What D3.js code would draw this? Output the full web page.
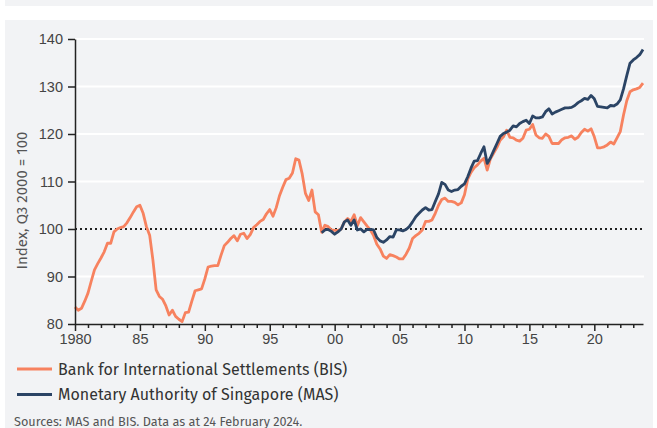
<!DOCTYPE html>
<html><head><meta charset="utf-8">
<script src="https://cdn.jsdelivr.net/npm/d3@7"></script>
<style>
html,body{margin:0;padding:0;background:#fff;}
svg{display:block;font-family:"Fira Sans","Noto Sans",Roboto,sans-serif;}
</style></head><body>
<svg id="c" width="657" height="428"></svg>
<script>
// Quarterly, from 1980Q1 to 2023Q4
const startYear = 1980;
const bisValues = [
 83.6,82.9,83.3,84.8, 86.5,89.0,91.4,92.7, 93.9,95.2,97.0,97.0, 99.4,100.0,100.3,100.5,
 101.3,102.4,103.6,104.7, 105.0,103.3,100.5,98.7, 93.5,87.2,85.8,85.2, 83.8,81.9,82.9,81.6,
 81.0,80.5,82.4,82.5, 84.8,87.0,87.2,87.4, 89.5,92.0,92.2,92.3, 92.3,94.5,96.5,97.2,
 98.0,98.6,97.5,98.9, 99.1,98.0,98.8,100.3, 100.9,101.6,102.0,103.2, 104.1,102.7,104.5,107.0,
 108.8,110.4,110.7,111.8, 114.8,114.5,111.6,107.5, 106.0,108.2,103.6,103.0, 99.3,100.8,100.5,99.8,
 99.7,99.7,100.0,101.5, 102.2,101.6,103.0,100.7, 102.4,101.5,100.6,99.8, 98.6,96.8,95.8,94.3,
 93.8,94.6,94.4,94.1, 93.7,93.7,94.7,96.0, 98.0,98.6,99.1,99.8, 101.6,101.6,101.9,103.3,
 105.0,106.2,106.5,105.8, 105.8,105.6,105.1,105.5, 107.2,110.5,111.9,112.9, 113.5,114.3,114.9,112.4,
 114.8,116.0,117.2,118.7, 119.4,120.8,119.3,119.2, 118.7,118.5,119.1,120.8, 121.0,122.0,119.8,119.2,
 119.1,120.0,119.5,118.0, 118.0,118.0,118.8,119.2, 119.3,119.6,118.9,119.3, 120.3,121.0,120.6,121.1,
 119.4,117.1,117.1,117.3, 117.7,118.3,117.9,119.2, 120.5,124.0,127.0,128.9, 129.3,129.5,129.8,130.7
];
// Quarterly, from 1999Q1 to 2023Q4
const masStartYear = 1999;
const masValues = [
 99.2,99.8,99.9,99.5, 98.9,99.4,100.0,101.5, 101.9,100.8,101.9,99.8, 100.0,99.4,99.9,99.9,
 99.8,98.2,97.5,97.2, 97.7,98.4,98.3,99.8, 99.8,99.6,99.9,100.5, 101.5,102.6,103.3,104.0,
 104.5,104.0,104.1,105.8, 107.4,109.8,109.4,108.2, 107.9,108.2,108.3,109.0, 109.5,111.0,112.8,114.3,
 114.4,115.9,117.3,113.8, 115.0,116.5,118.0,119.5, 120.1,120.4,120.8,121.7, 121.5,122.2,122.6,122.9,
 122.2,123.8,123.4,123.4, 123.6,124.7,125.3,124.2, 124.6,124.9,125.2,125.5, 125.5,125.6,126.0,126.6,
 127.0,127.5,127.3,128.1, 127.4,125.8,125.7,125.6, 125.5,126.0,125.9,126.3, 127.2,129.5,132.3,134.9,
 135.6,136.1,136.7,137.8
];
const yTicks = [80,90,100,110,120,130,140];
const xMajorTicks = [1980,1985,1990,1995,2000,2005,2010,2015,2020];
const seriesNames = ["Bank for International Settlements (BIS)","Monetary Authority of Singapore (MAS)"];
const seriesColors = ["#f7825f","#2b4465"];
const yTitle = "Index, Q3 2000 = 100";
const sourceText = "Sources: MAS and BIS. Data as at 24 February 2024.";

const bis = bisValues.map((v,i)=>({t:startYear+i/4,v}));
const mas = masValues.map((v,i)=>({t:masStartYear+i/4,v}));

const svg = d3.select("#c");
const bg = "#f2f3f5";
svg.append("rect").attr("x",5).attr("y",0).attr("width",648).attr("height",6).attr("fill",bg);
svg.append("rect").attr("x",5).attr("y",20).attr("width",648).attr("height",408).attr("fill",bg);

const x = d3.scaleLinear().domain([1980,2023.75]).range([75,643]);
const y = d3.scaleLinear().domain([80,140]).range([324,39]);

// gridlines
svg.append("g").selectAll("line").data(yTicks.filter(d=>d!==80 && d!==100)).join("line")
  .attr("x1",x(1980)).attr("x2",x(2023.75)+1).attr("y1",d=>y(d)).attr("y2",d=>y(d))
  .attr("stroke","#fff").attr("stroke-width",2);
// reference line at 100
svg.append("line").attr("x1",x(1980)).attr("x2",x(2023.75)+1).attr("y1",y(100)).attr("y2",y(100))
  .attr("stroke","#222").attr("stroke-width",2).attr("stroke-dasharray","2,3");

const line = d3.line().x(d=>x(d.t)).y(d=>y(d.v)).curve(d3.curveLinear);
svg.append("path").datum(bis).attr("d",line).attr("fill","none")
  .attr("stroke",seriesColors[0]).attr("stroke-width",2.8).attr("stroke-linejoin","round");
svg.append("path").datum(mas).attr("d",line).attr("fill","none")
  .attr("stroke",seriesColors[1]).attr("stroke-width",2.8).attr("stroke-linejoin","round");

// axes
const tickColor = "#222", labelColor = "#444";
svg.append("g").attr("transform",`translate(${x(1980)},0)`)
  .call(d3.axisLeft(y).tickValues(yTicks).tickSize(7).tickSizeOuter(0).tickPadding(5));
const xMinor = d3.range(1981,2024).filter(d=>d%5!==0);
svg.append("g").attr("transform",`translate(0,${y(80)})`)
  .call(d3.axisBottom(x).tickValues(xMinor).tickSize(4).tickSizeOuter(0).tickFormat(""))
  .call(g=>g.select(".domain").remove());
svg.append("g").attr("transform",`translate(0,${y(80)})`)
  .call(d3.axisBottom(x).tickValues(xMajorTicks).tickSize(7).tickSizeOuter(0).tickPadding(3)
    .tickFormat(d=>d===1980?"1980":String(d%100).padStart(2,"0")));
svg.selectAll(".domain").attr("stroke",tickColor).attr("stroke-width",1.5);
svg.selectAll(".tick line").attr("stroke",tickColor).attr("stroke-width",1.5);
svg.selectAll(".tick text").attr("fill",labelColor).style("font-size","14.5px").style("font-family",null);

svg.append("text").attr("transform",`translate(27,${(y(80)+y(140))/2+19}) rotate(-90)`)
  .attr("text-anchor","middle").attr("fill","#555").style("font-size","15px").text(yTitle);

// legend
const lg = svg.append("g");
seriesNames.forEach((n,i)=>{
  const yy = 369 + i*25.5;
  lg.append("line").attr("x1",17).attr("x2",52).attr("y1",yy).attr("y2",yy)
    .attr("stroke",seriesColors[i]).attr("stroke-width",3);
  lg.append("text").attr("x",58).attr("y",yy+5.5).attr("fill","#333").style("font-size","16px").text(n);
});
svg.append("text").attr("x",14).attr("y",426).attr("fill","#555").style("font-size","12.7px").text(sourceText);
</script></body></html>
